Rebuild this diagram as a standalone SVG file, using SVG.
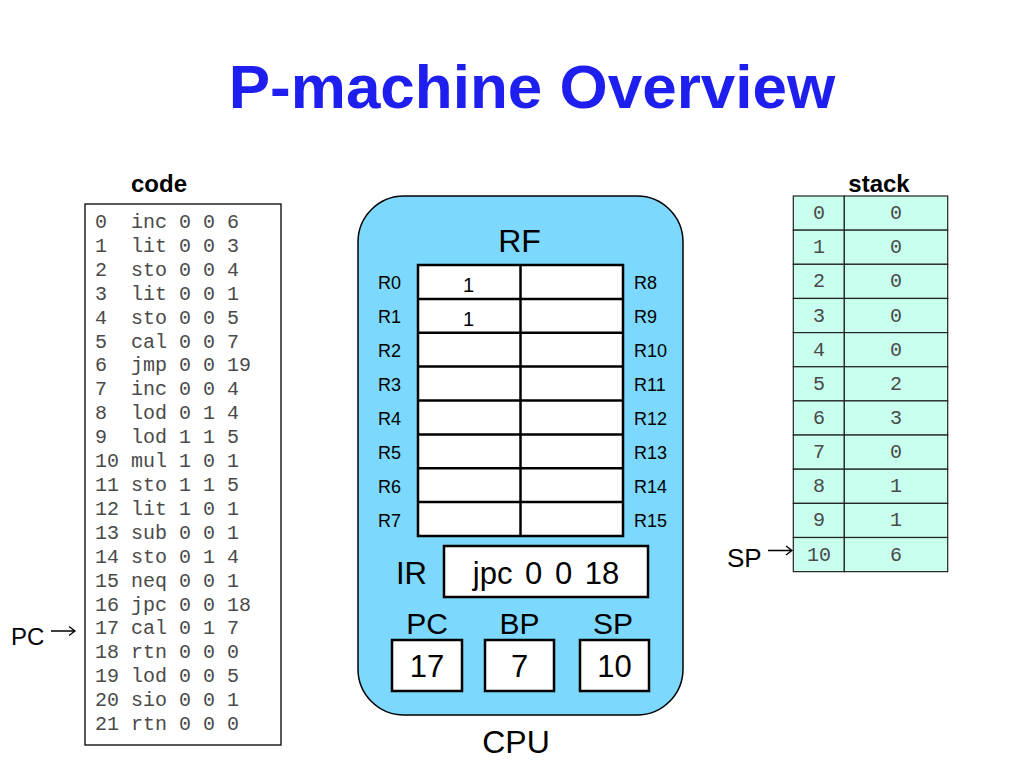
<svg xmlns="http://www.w3.org/2000/svg" width="1024" height="768" viewBox="0 0 1024 768">
<defs>
<style>
.title{font-family:"Liberation Sans",Arial,sans-serif;font-weight:bold;font-size:62px;fill:#1E1EEE}
.lbl{font-family:"Liberation Sans",Arial,sans-serif;font-weight:bold;font-size:24px;fill:#000}
.code{font-family:"Liberation Mono","Courier New",monospace;font-size:20px;fill:#4a4a4a}
.stk{font-family:"Liberation Mono","Courier New",monospace;font-size:20px;fill:#4a4a4a;text-anchor:middle}
.sans{font-family:"Liberation Sans",Arial,sans-serif;fill:#000}
.reg{font-family:"Liberation Sans",Arial,sans-serif;font-size:18px;fill:#000}
.box{fill:#fff;stroke:#000;stroke-width:2.5}
.cell{fill:#C8FFEE;stroke:#222;stroke-width:1.2}
.arr{fill:none;stroke:#000;stroke-width:1.3}
</style>
</defs>
<rect width="1024" height="768" fill="#fff"/>
<text class="title" x="532" y="108" text-anchor="middle">P-machine Overview</text>

<g id="code">
<text class="lbl" x="159" y="192" text-anchor="middle">code</text>
<rect x="85" y="204" width="196" height="541" fill="#fff" stroke="#000" stroke-width="1.3"/>
<g class="code">
<text y="228"><tspan x="95">0</tspan><tspan x="131">inc</tspan><tspan x="179">0</tspan><tspan x="203">0</tspan><tspan x="227">6</tspan></text>
<text y="251.9"><tspan x="95">1</tspan><tspan x="131">lit</tspan><tspan x="179">0</tspan><tspan x="203">0</tspan><tspan x="227">3</tspan></text>
<text y="275.8"><tspan x="95">2</tspan><tspan x="131">sto</tspan><tspan x="179">0</tspan><tspan x="203">0</tspan><tspan x="227">4</tspan></text>
<text y="299.7"><tspan x="95">3</tspan><tspan x="131">lit</tspan><tspan x="179">0</tspan><tspan x="203">0</tspan><tspan x="227">1</tspan></text>
<text y="323.6"><tspan x="95">4</tspan><tspan x="131">sto</tspan><tspan x="179">0</tspan><tspan x="203">0</tspan><tspan x="227">5</tspan></text>
<text y="347.5"><tspan x="95">5</tspan><tspan x="131">cal</tspan><tspan x="179">0</tspan><tspan x="203">0</tspan><tspan x="227">7</tspan></text>
<text y="371.4"><tspan x="95">6</tspan><tspan x="131">jmp</tspan><tspan x="179">0</tspan><tspan x="203">0</tspan><tspan x="227">19</tspan></text>
<text y="395.3"><tspan x="95">7</tspan><tspan x="131">inc</tspan><tspan x="179">0</tspan><tspan x="203">0</tspan><tspan x="227">4</tspan></text>
<text y="419.2"><tspan x="95">8</tspan><tspan x="131">lod</tspan><tspan x="179">0</tspan><tspan x="203">1</tspan><tspan x="227">4</tspan></text>
<text y="443.1"><tspan x="95">9</tspan><tspan x="131">lod</tspan><tspan x="179">1</tspan><tspan x="203">1</tspan><tspan x="227">5</tspan></text>
<text y="467"><tspan x="95">10</tspan><tspan x="131">mul</tspan><tspan x="179">1</tspan><tspan x="203">0</tspan><tspan x="227">1</tspan></text>
<text y="490.9"><tspan x="95">11</tspan><tspan x="131">sto</tspan><tspan x="179">1</tspan><tspan x="203">1</tspan><tspan x="227">5</tspan></text>
<text y="514.8"><tspan x="95">12</tspan><tspan x="131">lit</tspan><tspan x="179">1</tspan><tspan x="203">0</tspan><tspan x="227">1</tspan></text>
<text y="538.7"><tspan x="95">13</tspan><tspan x="131">sub</tspan><tspan x="179">0</tspan><tspan x="203">0</tspan><tspan x="227">1</tspan></text>
<text y="562.6"><tspan x="95">14</tspan><tspan x="131">sto</tspan><tspan x="179">0</tspan><tspan x="203">1</tspan><tspan x="227">4</tspan></text>
<text y="586.5"><tspan x="95">15</tspan><tspan x="131">neq</tspan><tspan x="179">0</tspan><tspan x="203">0</tspan><tspan x="227">1</tspan></text>
<text y="610.5"><tspan x="95">16</tspan><tspan x="131">jpc</tspan><tspan x="179">0</tspan><tspan x="203">0</tspan><tspan x="227">18</tspan></text>
<text y="634.4"><tspan x="95">17</tspan><tspan x="131">cal</tspan><tspan x="179">0</tspan><tspan x="203">1</tspan><tspan x="227">7</tspan></text>
<text y="658.3"><tspan x="95">18</tspan><tspan x="131">rtn</tspan><tspan x="179">0</tspan><tspan x="203">0</tspan><tspan x="227">0</tspan></text>
<text y="682.2"><tspan x="95">19</tspan><tspan x="131">lod</tspan><tspan x="179">0</tspan><tspan x="203">0</tspan><tspan x="227">5</tspan></text>
<text y="706.1"><tspan x="95">20</tspan><tspan x="131">sio</tspan><tspan x="179">0</tspan><tspan x="203">0</tspan><tspan x="227">1</tspan></text>
<text y="730"><tspan x="95">21</tspan><tspan x="131">rtn</tspan><tspan x="179">0</tspan><tspan x="203">0</tspan><tspan x="227">0</tspan></text>
</g>
</g>

<g id="pc-pointer">
<text class="sans" x="11" y="645" font-size="24">PC</text>
</g>

<g id="cpu">
<rect x="358" y="196" width="325" height="519" rx="46" ry="46" fill="#7CD8FC" stroke="#000" stroke-width="1.5"/>
<text class="sans" x="519.5" y="252" font-size="32" text-anchor="middle">RF</text>
<g id="rf">
<rect class="box" x="418" y="265" width="205" height="271"/>
<g stroke="#000" stroke-width="2.5">
<line x1="520.5" y1="265" x2="520.5" y2="536"/>
<line x1="418" y1="298.9" x2="623" y2="298.9"/>
<line x1="418" y1="332.8" x2="623" y2="332.8"/>
<line x1="418" y1="366.6" x2="623" y2="366.6"/>
<line x1="418" y1="400.5" x2="623" y2="400.5"/>
<line x1="418" y1="434.4" x2="623" y2="434.4"/>
<line x1="418" y1="468.3" x2="623" y2="468.3"/>
<line x1="418" y1="502.1" x2="623" y2="502.1"/>
</g>
<g class="reg">
<text x="378" y="289">R0</text>
<text x="378" y="323">R1</text>
<text x="378" y="357">R2</text>
<text x="378" y="391">R3</text>
<text x="378" y="424.5">R4</text>
<text x="378" y="458.5">R5</text>
<text x="378" y="492.5">R6</text>
<text x="378" y="526.5">R7</text>
<text x="634" y="289">R8</text>
<text x="634" y="323">R9</text>
<text x="634" y="357">R10</text>
<text x="634" y="391">R11</text>
<text x="634" y="424.5">R12</text>
<text x="634" y="458.5">R13</text>
<text x="634" y="492.5">R14</text>
<text x="634" y="526.5">R15</text>
</g>
<text class="sans" x="468.5" y="291.5" font-size="20" text-anchor="middle">1</text>
<text class="sans" x="468.5" y="326" font-size="20" text-anchor="middle">1</text>
</g>
<g id="ir">
<text class="sans" x="396" y="584" font-size="31">IR</text>
<rect class="box" x="444" y="546" width="204" height="51"/>
<text class="sans" x="546" y="584" font-size="31" text-anchor="middle" word-spacing="4">jpc 0 0 18</text>
</g>
<g id="pc">
<text class="sans" x="427" y="634" font-size="30" text-anchor="middle">PC</text>
<rect class="box" x="392" y="640" width="70" height="51"/>
<text class="sans" x="427" y="677" font-size="31" text-anchor="middle">17</text>
</g>
<g id="bp">
<text class="sans" x="519.5" y="634" font-size="30" text-anchor="middle">BP</text>
<rect class="box" x="485" y="640" width="69" height="51"/>
<text class="sans" x="519.5" y="677" font-size="31" text-anchor="middle">7</text>
</g>
<g id="sp">
<text class="sans" x="613" y="634" font-size="30" text-anchor="middle">SP</text>
<rect class="box" x="580" y="640" width="69" height="51"/>
<text class="sans" x="614.5" y="677" font-size="31" text-anchor="middle">10</text>
</g>
<text class="sans" x="516" y="753" font-size="32" text-anchor="middle">CPU</text>
</g>

<g id="stack">
<text class="lbl" x="879" y="192" text-anchor="middle">stack</text>
<g>
<rect class="cell" x="793.3" y="196" width="51" height="34.15"/><rect class="cell" x="844.3" y="196" width="103.4" height="34.15"/>
<rect class="cell" x="793.3" y="230.15" width="51" height="34.15"/><rect class="cell" x="844.3" y="230.15" width="103.4" height="34.15"/>
<rect class="cell" x="793.3" y="264.3" width="51" height="34.15"/><rect class="cell" x="844.3" y="264.3" width="103.4" height="34.15"/>
<rect class="cell" x="793.3" y="298.45" width="51" height="34.15"/><rect class="cell" x="844.3" y="298.45" width="103.4" height="34.15"/>
<rect class="cell" x="793.3" y="332.6" width="51" height="34.15"/><rect class="cell" x="844.3" y="332.6" width="103.4" height="34.15"/>
<rect class="cell" x="793.3" y="366.75" width="51" height="34.15"/><rect class="cell" x="844.3" y="366.75" width="103.4" height="34.15"/>
<rect class="cell" x="793.3" y="400.9" width="51" height="34.15"/><rect class="cell" x="844.3" y="400.9" width="103.4" height="34.15"/>
<rect class="cell" x="793.3" y="435.05" width="51" height="34.15"/><rect class="cell" x="844.3" y="435.05" width="103.4" height="34.15"/>
<rect class="cell" x="793.3" y="469.2" width="51" height="34.15"/><rect class="cell" x="844.3" y="469.2" width="103.4" height="34.15"/>
<rect class="cell" x="793.3" y="503.35" width="51" height="34.15"/><rect class="cell" x="844.3" y="503.35" width="103.4" height="34.15"/>
<rect class="cell" x="793.3" y="537.5" width="51" height="34.15"/><rect class="cell" x="844.3" y="537.5" width="103.4" height="34.15"/>
</g>
<g class="stk">
<text x="819" y="219">0</text><text x="896" y="219">0</text>
<text x="819" y="253.2">1</text><text x="896" y="253.2">0</text>
<text x="819" y="287.3">2</text><text x="896" y="287.3">0</text>
<text x="819" y="321.5">3</text><text x="896" y="321.5">0</text>
<text x="819" y="355.6">4</text><text x="896" y="355.6">0</text>
<text x="819" y="389.8">5</text><text x="896" y="389.8">2</text>
<text x="819" y="423.9">6</text><text x="896" y="423.9">3</text>
<text x="819" y="458.1">7</text><text x="896" y="458.1">0</text>
<text x="819" y="492.2">8</text><text x="896" y="492.2">1</text>
<text x="819" y="526.4">9</text><text x="896" y="526.4">1</text>
<text x="819" y="560.5">10</text><text x="896" y="560.5">6</text>
</g>
</g>

<g id="sp-pointer">
<text class="sans" x="727" y="567" font-size="26">SP</text>
</g>

<g id="connectors">
<path class="arr" d="M51,631 H75 M69,626.5 L75,631 L69,635.5"/>
<path class="arr" d="M768,550.5 H792 M786,546 L792,550.5 L786,555"/>
</g>
</svg>
